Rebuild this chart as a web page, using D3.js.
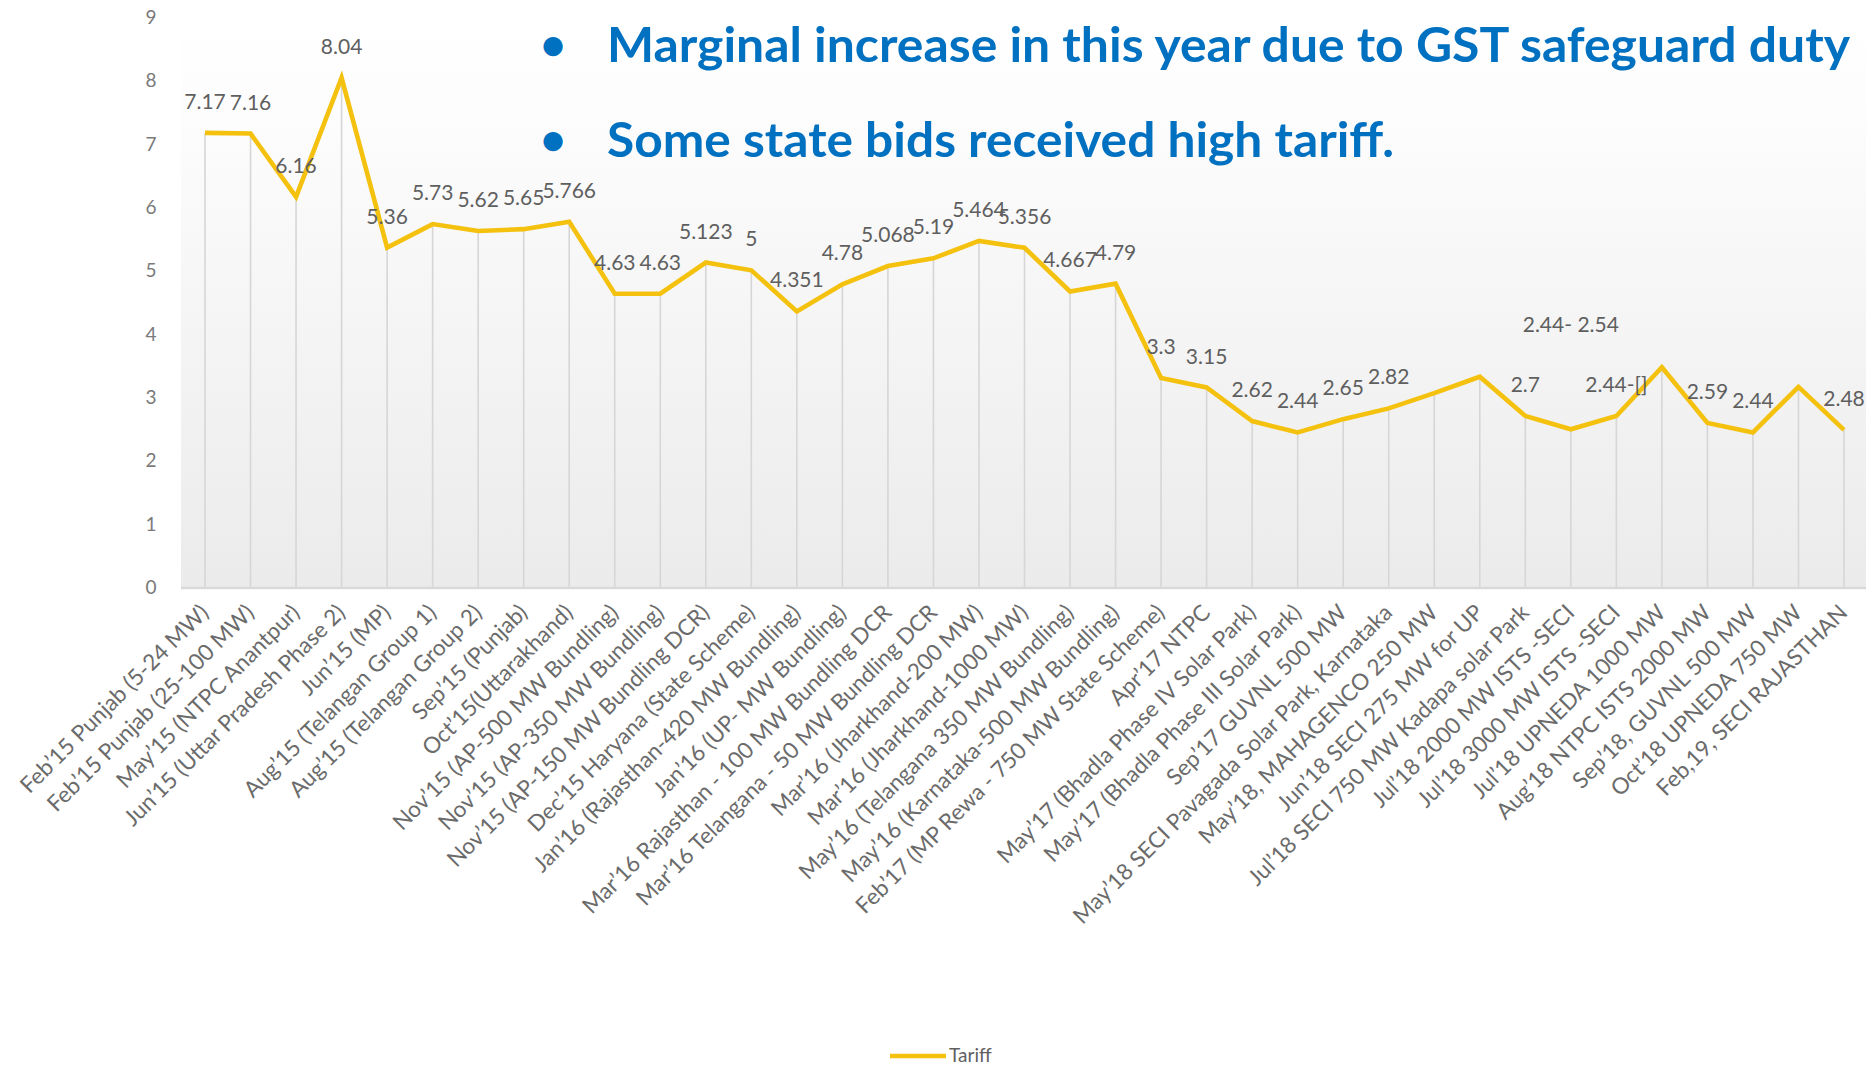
<!DOCTYPE html>
<html>
<head>
<meta charset="utf-8">
<script src="https://cdn.jsdelivr.net/npm/d3@7"></script>
<style>
  html, body { margin: 0; padding: 0; background: #fff; }
  svg { display: block; }
</style>
</head>
<body>
<svg id="chart" width="1868" height="1068"></svg>
<script>
// Solar auction tariffs (Rs/kWh) by bid round
const categories = [
  "Feb’15 Punjab (5-24 MW)",
  "Feb’15 Punjab (25-100 MW)",
  "May’15 (NTPC Anantpur)",
  "Jun’15 (Uttar Pradesh Phase 2)",
  "Jun’15 (MP)",
  "Aug’15 (Telangan Group 1)",
  "Aug’15 (Telangan Group 2)",
  "Sep’15 (Punjab)",
  "Oct’15(Uttarakhand)",
  "Nov’15 (AP-500 MW Bundling)",
  "Nov’15 (AP-350 MW Bundling)",
  "Nov’15 (AP-150 MW Bundling DCR)",
  "Dec’15 Haryana (State Scheme)",
  "Jan’16 (Rajasthan-420 MW Bundling)",
  "Jan’16 (UP- MW Bundling)",
  "Mar’16 Rajasthan - 100 MW Bundling DCR",
  "Mar’16 Telangana - 50 MW Bundling DCR",
  "Mar’16 (Jharkhand-200 MW)",
  "Mar’16 (Jharkhand-1000 MW)",
  "May’16 (Telangana 350 MW Bundling)",
  "May’16 (Karnataka-500 MW Bundling)",
  "Feb’17 (MP Rewa - 750 MW State Scheme)",
  "Apr’17 NTPC",
  "May’17 (Bhadla Phase IV Solar Park)",
  "May’17 (Bhadla Phase III Solar Park)",
  "Sep’17 GUVNL 500 MW",
  "May’18 SECI Pavagada Solar Park, Karnataka",
  "May’18, MAHAGENCO 250 MW",
  "Jun’18 SECI 275 MW for UP",
  "Jul’18 SECI 750 MW Kadapa solar Park",
  "Jul’18 2000 MW ISTS -SECI",
  "Jul’18 3000 MW ISTS -SECI",
  "Jul’18 UPNEDA 1000 MW",
  "Aug’18 NTPC ISTS 2000 MW",
  "Sep’18, GUVNL 500 MW",
  "Oct’18 UPNEDA 750 MW",
  "Feb,19, SECI RAJASTHAN"
];

const tariff = [
  7.17, 7.16, 6.16, 8.04, 5.36, 5.73, 5.62, 5.65, 5.766, 4.63,
  4.63, 5.123, 5, 4.351, 4.78, 5.068, 5.19, 5.464, 5.356, 4.667,
  4.79, 3.3, 3.15, 2.62, 2.44, 2.65, 2.82, 3.06, 3.32, 2.7,
  2.49, 2.7, 3.47, 2.59, 2.44, 3.16, 2.48
];

const pointLabels = [
  "7.17", "7.16", "6.16", "8.04", "5.36", "5.73", "5.62", "5.65", "5.766", "4.63",
  "4.63", "5.123", "5", "4.351", "4.78", "5.068", "5.19", "5.464", "5.356", "4.667",
  "4.79", "3.3", "3.15", "2.62", "2.44", "2.65", "2.82", "", "", "2.7",
  "2.44- 2.54", "2.44-[]", "", "2.59", "2.44", "", "2.48"
];

const yTicks = [0, 1, 2, 3, 4, 5, 6, 7, 8, 9];
const seriesName = "Tariff";

const bullets = [
  "Marginal increase in this year due to GST safeguard duty",
  "Some state bids received high tariff."
];

const svg = d3.select("#chart");
const FONT = "Lato, 'Open Sans', sans-serif";
const LINE_COLOR = "#F4C10F";

const x = d3.scalePoint().domain(categories).range([205, 1844]);
const y = d3.scaleLinear().domain([0, 9]).range([587, 17]);

// plot-area background: soft vertical gradient
const defs = svg.append("defs");
const grad = defs.append("linearGradient")
  .attr("id", "plotBg").attr("x1", 0).attr("y1", 0).attr("x2", 0).attr("y2", 1);
grad.append("stop").attr("offset", "0%").attr("stop-color", "#ffffff");
grad.append("stop").attr("offset", "20%").attr("stop-color", "#fcfcfc");
grad.append("stop").attr("offset", "100%").attr("stop-color", "#ebebeb");

svg.append("rect")
  .attr("x", 181).attr("y", y(9))
  .attr("width", 1866 - 181).attr("height", y(0) - y(9))
  .attr("fill", "url(#plotBg)");

// drop lines from each point to the category axis
svg.append("g").selectAll("line")
  .data(tariff)
  .join("line")
  .attr("x1", (d, i) => x(categories[i]))
  .attr("x2", (d, i) => x(categories[i]))
  .attr("y1", d => y(d))
  .attr("y2", y(0))
  .attr("stroke", "#d6d6d6")
  .attr("stroke-width", 1.6);

// category axis line
svg.append("line")
  .attr("x1", 181).attr("x2", 1866)
  .attr("y1", y(0) + 1).attr("y2", y(0) + 1)
  .attr("stroke", "#d9d9d9").attr("stroke-width", 2.5);

// value axis labels
svg.append("g").selectAll("text")
  .data(yTicks)
  .join("text")
  .attr("x", 151)
  .attr("y", d => y(d))
  .attr("dy", "0.36em")
  .attr("text-anchor", "middle")
  .attr("font-family", FONT)
  .attr("font-size", 19)
  .attr("fill", "#7a7a7a")
  .text(d => d);

// category labels, rotated
svg.append("g").selectAll("text")
  .data(categories)
  .join("text")
  .attr("transform", d => `translate(${x(d) + 5},${y(0) + 27}) rotate(-45)`)
  .attr("text-anchor", "end")
  .attr("font-family", FONT)
  .attr("font-size", 22.5)
  .attr("fill", "#6b6b6b")
  .text(d => d);

// tariff line
const line = d3.line()
  .x((d, i) => x(categories[i]))
  .y(d => y(d));

svg.append("path")
  .datum(tariff)
  .attr("d", line)
  .attr("fill", "none")
  .attr("stroke", LINE_COLOR)
  .attr("stroke-width", 4.6)
  .attr("stroke-linejoin", "miter");

// value labels above points (the range label for the 2000 MW ISTS round sits higher)
svg.append("g").selectAll("text")
  .data(tariff)
  .join("text")
  .attr("x", (d, i) => x(categories[i]))
  .attr("y", (d, i) => y(d) - (pointLabels[i].startsWith("2.44- ") ? 97 : 24))
  .attr("text-anchor", "middle")
  .attr("font-family", FONT)
  .attr("font-size", 21)
  .attr("fill", "#5f5f5f")
  .text((d, i) => pointLabels[i]);

// bullet notes
const bulletBaselines = [62, 157];
const bulletWidths = [1243, 787];
const notes = svg.append("g")
  .attr("font-family", FONT)
  .attr("font-weight", 700)
  .attr("fill", "#0070C0");
bullets.forEach((t, i) => {
  notes.append("text")
    .attr("x", 553).attr("y", bulletBaselines[i] - 2)
    .attr("text-anchor", "middle")
    .attr("font-size", 44)
    .text("•");
  notes.append("text")
    .attr("x", 607).attr("y", bulletBaselines[i])
    .attr("font-size", 48)
    .attr("textLength", bulletWidths[i])
    .attr("lengthAdjust", "spacingAndGlyphs")
    .text(t);
});

// legend
const legend = svg.append("g");
legend.append("line")
  .attr("x1", 890).attr("x2", 946)
  .attr("y1", 1056).attr("y2", 1056)
  .attr("stroke", LINE_COLOR).attr("stroke-width", 4.6);
legend.append("text")
  .attr("x", 949).attr("y", 1062)
  .attr("font-family", FONT)
  .attr("font-size", 19)
  .attr("fill", "#5f5f5f")
  .text(seriesName);
</script>
</body>
</html>
